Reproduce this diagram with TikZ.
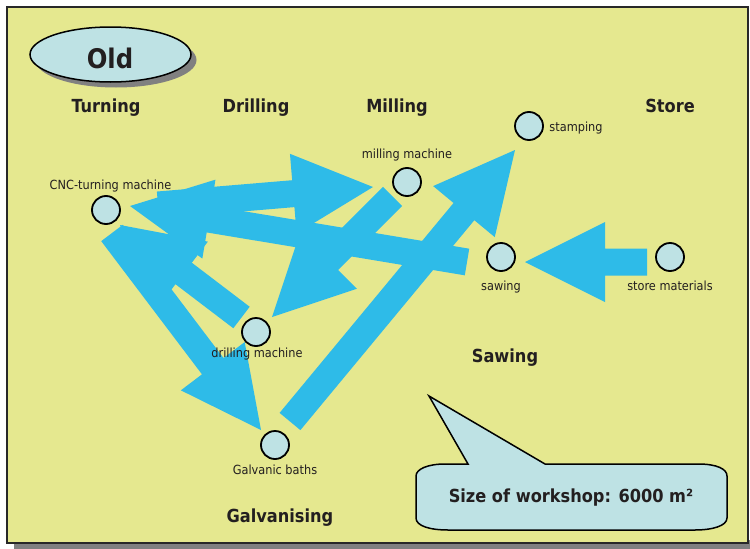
\documentclass[tikz,border=0pt]{standalone}
\usepackage{fontspec}
\setmainfont{DejaVu Sans Condensed}
\usetikzlibrary{calc,shapes.geometric}
\definecolor{bgyellow}{RGB}{229,232,143}
\definecolor{arrowblue}{RGB}{46,187,232}
\definecolor{nodeblue}{RGB}{190,226,228}
\definecolor{txt}{RGB}{35,31,32}
\definecolor{framegray}{RGB}{40,40,40}
\definecolor{shadowgray}{RGB}{128,128,128}
\newcommand\blkarrow[2]{%
  \coordinate (bc) at ($(#2)!80pt!(#1)$);
  \fill[arrowblue] ($(#1)!13.5pt!90:(#2)$) -- ($(bc)!13.5pt!90:(#2)$) -- ($(bc)!40pt!90:(#2)$) -- (#2)
    -- ($(bc)!40pt!-90:(#2)$) -- ($(bc)!13.5pt!-90:(#2)$) -- ($(#1)!13.5pt!-90:(#2)$) -- cycle;}
\begin{document}
\begin{tikzpicture}[x=1pt,y=-1pt,
  heading/.style={font=\fontsize{18}{20}\selectfont\bfseries, text=txt, anchor=base, inner sep=0pt},
  lbl/.style={font=\fontsize{12.6}{14}\selectfont, text=txt, anchor=base, inner sep=0pt},
  machine/.style={circle, draw=black, line width=1.8pt, fill=nodeblue, minimum size=28pt, inner sep=0pt}]
\useasboundingbox (0,0) rectangle (750,549);
% frame
\fill[shadowgray] (14,540) rectangle (750,549);
\draw[fill=bgyellow, line width=2pt, draw=framegray] (7,7) rectangle (748,543);
% Old
\node[ellipse, fill=shadowgray, minimum width=161pt, minimum height=55pt, inner sep=0pt] (oldshadow) at (116,60) {};
\node[ellipse, draw=black, line width=1.5pt, fill=nodeblue, minimum width=161pt, minimum height=55pt, inner sep=0pt] (old) at (110.5,54.5) {};
\node[font=\fontsize{27}{30}\selectfont\bfseries, text=txt, anchor=base, inner sep=0pt] (oldtxt) at (110,68) {Old};
% headings
\node[heading] (turning) at (106,112) {Turning};
\node[heading] (drilling) at (256,112) {Drilling};
\node[heading] (milling) at (397,112) {Milling};
\node[heading] (store) at (670,112) {Store};
\node[heading] (sawinghd) at (505,362) {Sawing};
\node[heading] (galv) at (280,522) {Galvanising};
% arrow end points
\coordinate (t1) at (647,262); \coordinate (h1) at (525,262);
\coordinate (t2) at (467,262); \coordinate (h2) at (130,206);
\coordinate (t3) at (158,205); \coordinate (h3) at (373,187);
\coordinate (t4) at (392.5,196.5); \coordinate (h4) at (272,317);
\coordinate (t5) at (290,421.5); \coordinate (h5) at (515,150);
\coordinate (t6) at (241.5,317.5); \coordinate (h6) at (120,225);
\coordinate (t7) at (112,233); \coordinate (h7) at (261,430);
\blkarrow{t1}{h1}
\blkarrow{t2}{h2}
\blkarrow{t3}{h3}
\blkarrow{t4}{h4}
\blkarrow{t5}{h5}
\blkarrow{t6}{h6}
\blkarrow{t7}{h7}
% machines
\node[machine] (stamp) at (529,126) {};
\node[machine] (mill) at (407,182) {};
\node[machine] (cnc) at (106,210) {};
\node[machine] (saw) at (501,257) {};
\node[machine] (storem) at (670,257) {};
\node[machine] (drill) at (256,332) {};
\node[machine] (galvb) at (275,445) {};
\node[lbl] (stampl) at (576,131) {stamping};
\node[lbl] (milll) at (407,158) {milling machine};
\node[lbl] (cncl) at (110.5,189) {CNC-turning machine};
\node[lbl] (sawl) at (501,290) {sawing};
\node[lbl] (storel) at (670,290) {store materials};
\node[lbl] (drilll) at (257,357) {drilling machine};
\node[lbl] (galvl) at (275,474) {Galvanic baths};
% callout
\draw[fill=nodeblue, line width=1.5pt, draw=black]
  (445,464) -- (468,464) -- (429,396) -- (545,464) -- (698,464)
  .. controls (717,464) and (727,469) .. (727,476) -- (727,518)
  .. controls (727,526) and (712,530) .. (695,530) -- (448,530)
  .. controls (430,530) and (416,526) .. (416,518) -- (416,476)
  .. controls (416,469) and (428,464) .. (445,464) -- cycle;
\node[heading] (size) at (571,502) {Size of workshop: 6000 m²};
\end{tikzpicture}
\end{document}
